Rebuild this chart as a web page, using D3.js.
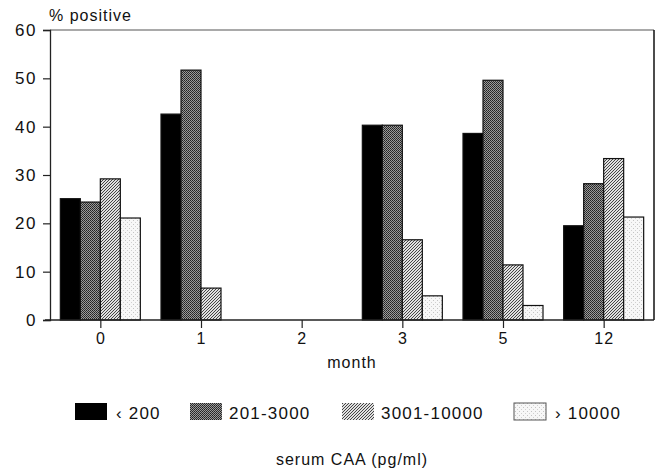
<!DOCTYPE html>
<html>
<head>
<meta charset="utf-8">
<script src="https://cdn.jsdelivr.net/npm/d3@7"></script>
<style>
  body { margin: 0; background: #fff; }
  text { font-family: "Liberation Sans", Arial, sans-serif; fill: #111; }
</style>
</head>
<body>
<script>
// months on the x axis
var months = ["0", "1", "2", "3", "5", "12"];
// serum CAA groups
var groups = ["\u2039 200", "201-3000", "3001-10000", "\u203A 10000"];
// % positive per group, one value per month
var lowCAA = [25.1, 42.6, 0, 40.3, 38.6, 19.5];
var midCAA = [24.4, 51.7, 0, 40.3, 49.6, 28.2];
var highCAA = [29.2, 6.6, 0, 16.6, 11.4, 33.4];
var topCAA = [21.1, 0, 0, 5.0, 3.0, 21.3];
var yTicks = [0, 10, 20, 30, 40, 50, 60];

var series = [lowCAA, midCAA, highCAA, topCAA];
var fills = ["#000", "url(#checker)", "url(#hatch)", "url(#stipple)"];

var width = 664, height = 470;
var plotLeft = 50, plotRight = 654, plotTop = 30, plotBottom = 320;

var svg = d3.select("body").append("svg")
  .attr("width", width)
  .attr("height", height);

var defs = svg.append("defs");

// dark checker pattern
var checker = defs.append("pattern")
  .attr("id", "checker").attr("patternUnits", "userSpaceOnUse")
  .attr("width", 2).attr("height", 2);
checker.append("rect").attr("width", 2).attr("height", 2).attr("fill", "#9a9a9a");
checker.append("rect").attr("width", 1).attr("height", 1).attr("fill", "#222");
checker.append("rect").attr("x", 1).attr("y", 1).attr("width", 1).attr("height", 1).attr("fill", "#333");

// diagonal hatch
var hatch = defs.append("pattern")
  .attr("id", "hatch").attr("patternUnits", "userSpaceOnUse")
  .attr("width", 3).attr("height", 3);
hatch.append("rect").attr("width", 3).attr("height", 3).attr("fill", "#e0e0e0");
hatch.append("rect").attr("x", 0).attr("y", 0).attr("width", 1).attr("height", 1).attr("fill", "#444");
hatch.append("rect").attr("x", 1).attr("y", 2).attr("width", 1).attr("height", 1).attr("fill", "#444");
hatch.append("rect").attr("x", 2).attr("y", 1).attr("width", 1).attr("height", 1).attr("fill", "#444");

// light stipple
var stipple = defs.append("pattern")
  .attr("id", "stipple").attr("patternUnits", "userSpaceOnUse")
  .attr("width", 4).attr("height", 4);
stipple.append("rect").attr("width", 4).attr("height", 4).attr("fill", "#f7f7f7");
stipple.append("rect").attr("x", 1).attr("y", 0).attr("width", 1).attr("height", 1).attr("fill", "#c4c4c4");
stipple.append("rect").attr("x", 3).attr("y", 2).attr("width", 1).attr("height", 1).attr("fill", "#d0d0d0");

var x = d3.scalePoint()
  .domain(months)
  .range([plotLeft, plotRight])
  .padding(0.5);

var y = d3.scaleLinear()
  .domain([0, 60])
  .range([plotBottom, plotTop]);

var barW = 20;

// bars
for (var s = 0; s < series.length; s++) {
  svg.append("g").selectAll("rect")
    .data(series[s])
    .enter().append("rect")
    .attr("x", function(d, i) { return x(months[i]) - 2 * barW + s * barW; })
    .attr("y", function(d) { return y(d); })
    .attr("width", barW)
    .attr("height", function(d) { return y(0) - y(d); })
    .attr("fill", fills[s])
    .attr("stroke", "#111")
    .attr("stroke-width", function(d) { return d > 0 ? 1.2 : 0; });
}

// frame: top and right lines
svg.append("line")
  .attr("x1", plotLeft).attr("x2", plotRight).attr("y1", plotTop).attr("y2", plotTop)
  .attr("stroke", "#555").attr("stroke-width", 1.2);
svg.append("line")
  .attr("x1", plotRight).attr("x2", plotRight).attr("y1", plotTop).attr("y2", plotBottom)
  .attr("stroke", "#111").attr("stroke-width", 1.5);

// y axis
var yAxis = svg.append("g")
  .attr("transform", "translate(" + plotLeft + ",0)")
  .call(d3.axisLeft(y).tickValues(yTicks).tickSize(7).tickPadding(6));
yAxis.select(".domain").attr("stroke", "#222").attr("stroke-width", 1.3);
yAxis.selectAll(".tick line").attr("stroke", "#222").attr("stroke-width", 1.2);
yAxis.selectAll("text").style("font-size", "17px").style("letter-spacing", "1.5px")
  .attr("fill", "#111");

// x axis
var xAxis = svg.append("g")
  .attr("transform", "translate(0," + plotBottom + ")")
  .call(d3.axisBottom(x).tickSize(8).tickPadding(5));
xAxis.select(".domain").attr("d", "M" + (plotLeft - 5) + ",0H" + plotRight)
  .attr("stroke", "#222").attr("stroke-width", 1.3);
xAxis.selectAll(".tick line").attr("stroke", "#222").attr("stroke-width", 1.2);
xAxis.selectAll("text").style("font-size", "16px").style("letter-spacing", "1px")
  .attr("fill", "#111");

// titles
svg.append("text")
  .attr("x", 49).attr("y", 21)
  .style("font-size", "16px").style("letter-spacing", "1px")
  .text("% positive");

svg.append("text")
  .attr("x", 352).attr("y", 368)
  .attr("text-anchor", "middle")
  .style("font-size", "16px").style("letter-spacing", "1px")
  .text("month");

svg.append("text")
  .attr("x", 352).attr("y", 465)
  .attr("text-anchor", "middle")
  .style("font-size", "16px").style("letter-spacing", "1px")
  .text("serum CAA (pg/ml)");

// legend
var legendX = [75, 190, 342, 514];
var legend = svg.append("g").selectAll("g")
  .data(groups)
  .enter().append("g")
  .attr("transform", function(d, i) { return "translate(" + legendX[i] + ",403)"; });

legend.append("rect")
  .attr("width", 32).attr("height", 17)
  .attr("fill", function(d, i) { return fills[i]; })
  .attr("stroke", function(d, i) { return i == 3 ? "#555" : "none"; });

legend.append("text")
  .attr("x", function(d, i) { return i == 0 || i == 3 ? 41 : 39; })
  .attr("y", 16)
  .style("font-size", "17px").style("letter-spacing", "1.2px")
  .text(function(d) { return d; });
</script>
</body>
</html>
